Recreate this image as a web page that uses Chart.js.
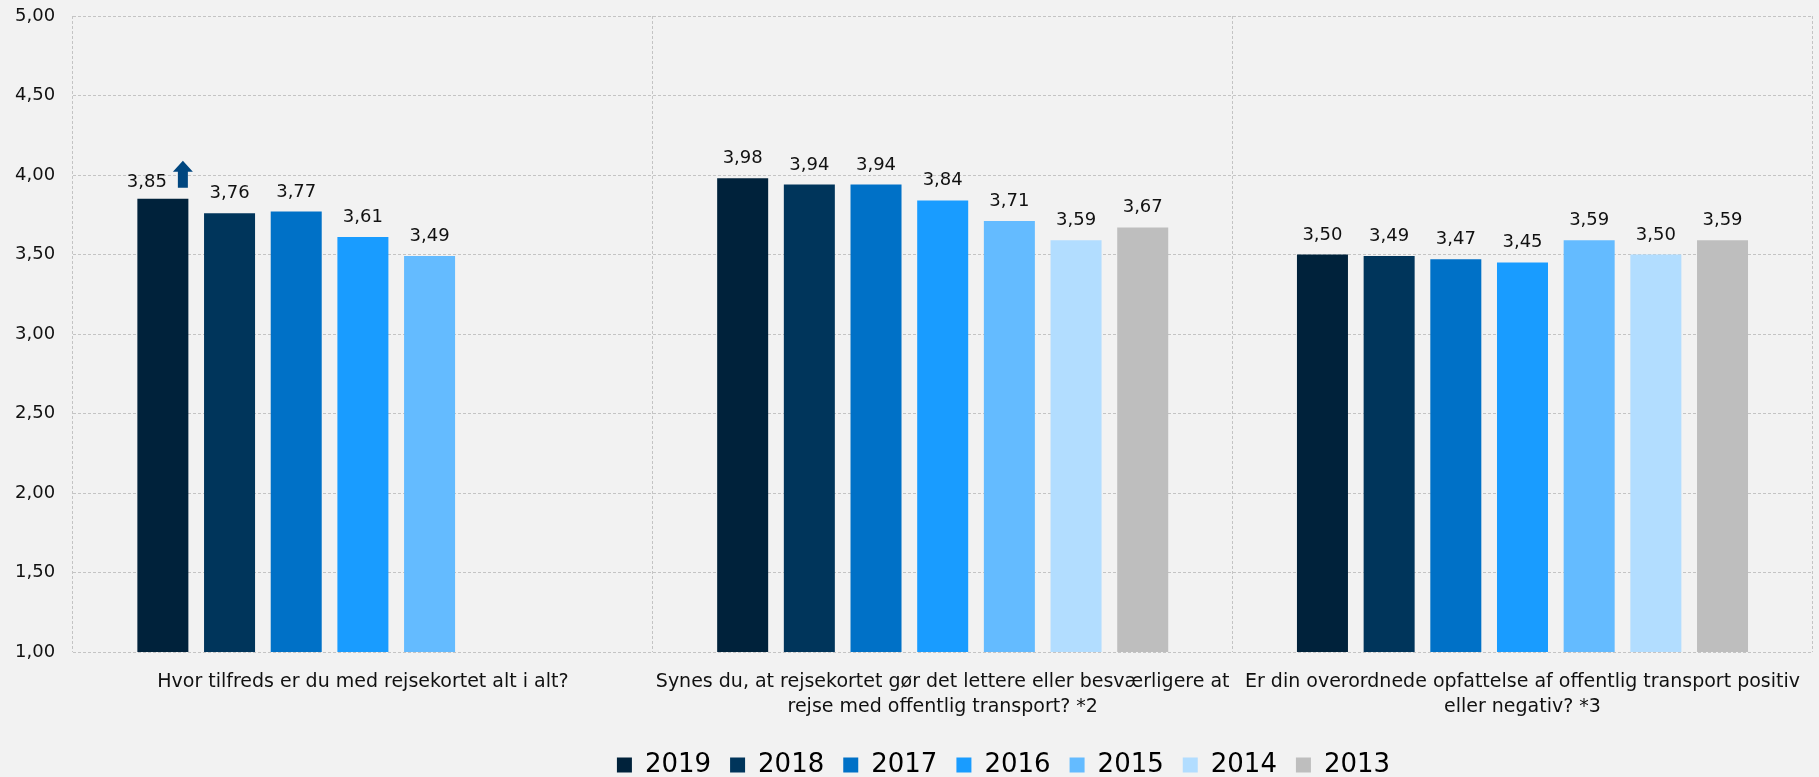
<!DOCTYPE html>
<html>
<head>
<meta charset="utf-8">
<script src="https://cdn.jsdelivr.net/npm/chart.js@4"></script>
<style>
    body { margin: 0; background: #f2f2f2; }
    #wrap { width: 1819px; height: 777px; }
</style>
</head>
<body>
<div id="wrap"><canvas id="rejsekort"></canvas></div>
<script>
// spørgsmål (kategorier)
const questions = [
    'Hvor tilfreds er du med rejsekortet alt i alt?',
    ['Synes du, at rejsekortet gør det lettere eller besværligere at', 'rejse med offentlig transport? *2'],
    ['Er din overordnede opfattelse af offentlig transport positiv', 'eller negativ? *3'],
];

const years = ['2019', '2018', '2017', '2016', '2015', '2014', '2013'];

const v2019 = [3.85, 3.98, 3.50];
const v2018 = [3.76, 3.94, 3.49];
const v2017 = [3.77, 3.94, 3.47];
const v2016 = [3.61, 3.84, 3.45];
const v2015 = [3.49, 3.71, 3.59];
const v2014 = [null, 3.59, 3.50];
const v2013 = [null, 3.67, 3.59];

const yTicks = [1, 1.5, 2, 2.5, 3, 3.5, 4, 4.5, 5];

const colors = ['#00223b', '#00355b', '#0071c7', '#199cff', '#64bbff', '#b2ddff', '#bebebe'];

const font = '"DejaVu Sans", Verdana, sans-serif';
const fmt = v => v.toFixed(2).replace('.', ',');

// værdier over søjlerne + pil ved 2019
const barLabels = {
    id: 'barLabels',
    afterLayout(chart) {
        // legenden sidder lidt til højre for midten
        chart.legend.left += 179;
    },
    afterDatasetsDraw(chart) {
        const ctx = chart.ctx;
        ctx.save();
        ctx.font = '18px ' + font;
        ctx.fillStyle = '#111';
        ctx.textAlign = 'center';
        ctx.textBaseline = 'alphabetic';
        chart.data.datasets.forEach((ds, i) => {
            chart.getDatasetMeta(i).data.forEach((bar, j) => {
                if (ds.data[j] == null) return;
                if (i === 0 && j === 0) {
                    ctx.fillText(fmt(ds.data[j]), bar.x - 16, bar.y - 12);
                } else {
                    ctx.fillText(fmt(ds.data[j]), bar.x, bar.y - 15);
                }
            });
        });
        // pil op
        const b = chart.getDatasetMeta(0).data[0];
        const x = b.x + 20, y = b.y;
        ctx.fillStyle = '#00467f';
        ctx.beginPath();
        ctx.moveTo(x - 5, y - 11);
        ctx.lineTo(x + 5, y - 11);
        ctx.lineTo(x + 5, y - 27);
        ctx.lineTo(x + 10, y - 27);
        ctx.lineTo(x, y - 38);
        ctx.lineTo(x - 10, y - 27);
        ctx.lineTo(x - 5, y - 27);
        ctx.closePath();
        ctx.fill();
        ctx.restore();
    },
};

const series = [v2019, v2018, v2017, v2016, v2015, v2014, v2013];

new Chart(document.querySelector('#rejsekort'), {
    type: 'bar',
    data: {
        labels: questions,
        datasets: series.map((d, i) => ({
            label: years[i],
            data: d,
            backgroundColor: colors[i],
            categoryPercentage: 0.805,
            barPercentage: 0.765,
        })),
    },
    options: {
        responsive: true,
        maintainAspectRatio: false,
        animation: false,
        layout: { padding: { top: 16, right: 6, left: 15, bottom: -11 } },
        scales: {
            y: {
                min: 1,
                max: 5,
                afterBuildTicks: s => { s.ticks = yTicks.map(v => ({ value: v })); },
                afterFit: s => { s.width = 58; },
                ticks: {
                    padding: 0,
                    crossAlign: 'far',
                    color: '#111',
                    font: { family: font, size: 18 },
                    callback: v => fmt(v),
                },
                grid: { color: '#c4c4c4', drawTicks: false },
                border: { display: false, dash: [3, 2] },
            },
            x: {
                afterFit: s => { s.height = 81; },
                ticks: {
                    padding: 18,
                    maxRotation: 0,
                    autoSkip: false,
                    color: '#111',
                    font: { family: font, size: 19, lineHeight: 1.3 },
                },
                grid: { color: '#c4c4c4', drawTicks: false },
                border: { display: false, dash: [3, 2] },
            },
        },
        plugins: {
            legend: {
                position: 'bottom',
                labels: {
                    boxWidth: 15,
                    boxHeight: 15,
                    padding: 19,
                    color: '#000',
                    font: { family: font, size: 26 },
                },
            },
            tooltip: { enabled: false },
        },
    },
    plugins: [barLabels],
});
</script>
</body>
</html>
